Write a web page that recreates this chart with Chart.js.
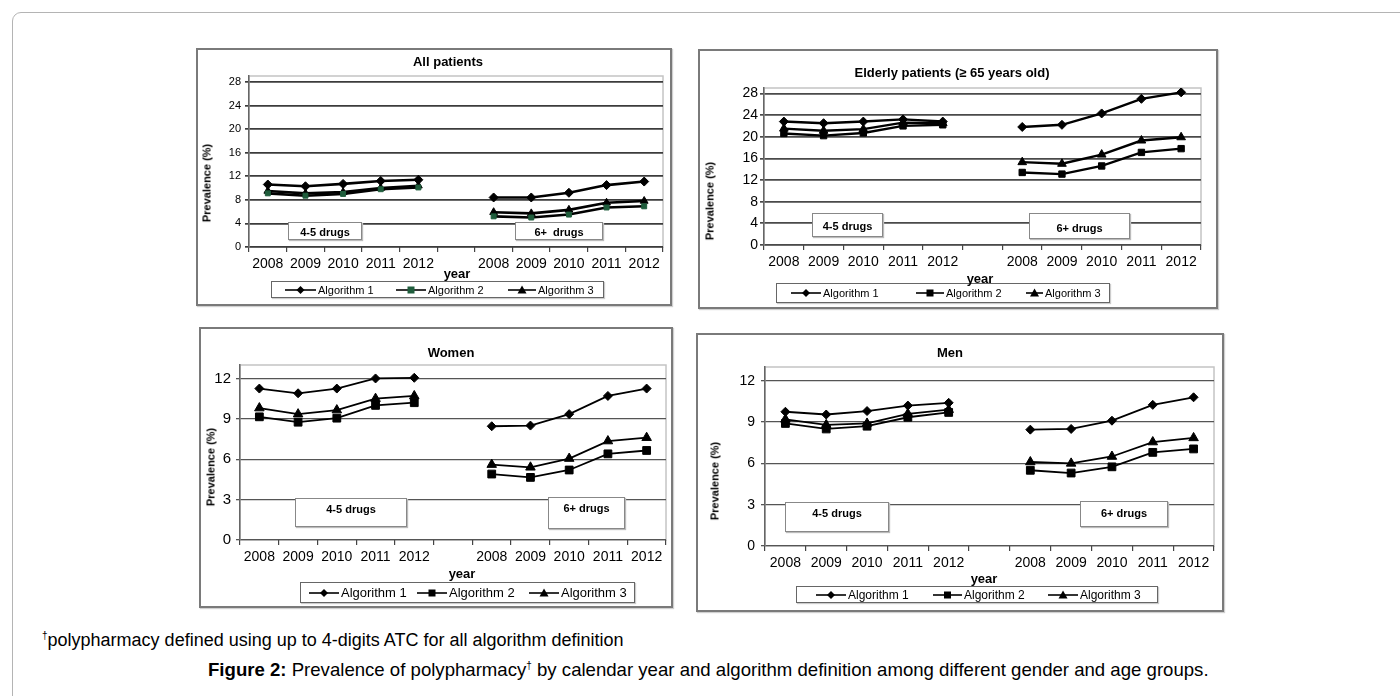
<!DOCTYPE html>
<html>
<head>
<meta charset="utf-8">
<script src="https://cdn.jsdelivr.net/npm/chart.js@4.4.1/dist/chart.umd.min.js"></script>
<style>
body{margin:0;width:1400px;height:696px;overflow:hidden;background:#fff;font-family:Arial,"Liberation Sans",sans-serif;position:relative;color:#000}
.frame{position:absolute;left:12px;top:12px;width:1420px;height:720px;border:1px solid #b4b4b4;border-radius:9px}
.panel{position:absolute;box-sizing:border-box;border:2px solid #7a7a7a;box-shadow:1px 1px 1px #d0d0d0}
canvas{position:absolute}
.txt{position:absolute;white-space:nowrap;line-height:1}
.ttl{font-weight:bold;font-size:13px;transform:translate(-50%,-50%)}
.yt{font-weight:bold;font-size:11px;transform:translate(-50%,-50%) rotate(-90deg)}
.yr{font-weight:bold;font-size:13px;transform:translate(-50%,-50%)}
.box{position:absolute;box-sizing:border-box;border:1px solid #888;background:#fff;font-weight:bold;font-size:11px;text-align:center;box-shadow:1px 1px 1px #bbb;white-space:nowrap}
.leg{position:absolute;box-sizing:border-box;border:1px solid #666;background:#fff;box-shadow:1px 1px 1px #ccc}
.li{position:absolute;top:0;bottom:0;display:flex;align-items:center;white-space:nowrap}
.li svg{margin-right:2px}
.foot{position:absolute;white-space:nowrap;line-height:1}
sup{font-size:10px;vertical-align:7px;line-height:0}
</style>
</head>
<body>
<div class="frame"></div>
<div id="root"></div>
<div class="foot" style="left:42px;top:631px;font-size:18px"><sup>†</sup>polypharmacy defined using up to 4-digits ATC for all algorithm definition</div>
<div class="foot" style="left:208px;top:661px;font-size:18.6px"><b>Figure 2:</b> Prevalence of polypharmacy<sup>†</sup> by calendar year and algorithm definition among different gender and age groups.</div>
<script>
// x categories: two blocks of years with an empty slot between them
var years = ['2008','2009','2010','2011','2012','','2008','2009','2010','2011','2012'];
var seriesNames = ['Algorithm 1','Algorithm 2','Algorithm 3'];

// All patients
var allA1 = [10.6,10.3,10.7,11.2,11.4,null,8.4,8.4,9.2,10.5,11.1];
var allA2 = [9.1,8.7,9.0,9.8,10.1,null,5.2,5.0,5.5,6.7,6.9];
var allA3 = [9.5,9.1,9.3,10.0,10.4,null,5.9,5.7,6.3,7.5,7.8];

// Elderly patients (>= 65)
var eldA1 = [22.8,22.5,22.8,23.2,22.8,null,21.8,22.2,24.3,27.0,28.2];
var eldA2 = [20.6,20.2,20.7,22.0,22.2,null,13.4,13.1,14.6,17.1,17.8];
var eldA3 = [21.5,21.1,21.4,22.6,22.5,null,15.3,15.0,16.7,19.3,19.9];

// Women
var womA1 = [11.25,10.9,11.25,12.0,12.05,null,8.45,8.5,9.35,10.7,11.25];
var womA2 = [9.15,8.75,9.05,10.0,10.2,null,4.9,4.65,5.2,6.4,6.65];
var womA3 = [9.8,9.35,9.65,10.5,10.7,null,5.6,5.4,6.05,7.35,7.6];

// Men
var menA1 = [9.75,9.55,9.8,10.2,10.4,null,8.45,8.5,9.1,10.25,10.8];
var menA2 = [8.9,8.5,8.7,9.35,9.7,null,5.5,5.3,5.75,6.8,7.05];
var menA3 = [9.2,8.8,8.9,9.6,9.9,null,6.1,6.0,6.5,7.55,7.85];

var yMaxes = [29, 29, 13, 13];
var ySteps = [4, 4, 3, 3];

var panels = [
  {title:'All patients', data:[allA1,allA2,allA3], L:196,T:48,R:672,B:306, pl:249,pr:663,pt:76,pb:247,
   yFont:11, xFont:14, ypad:4, lw:2.6, grid:'#3c3c3c', gw:1.7, r:[4.5,3.5,4.5], a2:'#1f5d3c',
   tt:[448,61], yt:[207,183], yr:[457,273],
   boxes:[['4-5 drugs',288,222,74,18,3],['6+&nbsp; drugs',515,222,88,18,3]],
   leg:[271,281,333,17,11,[13,124,236],[31,30,28]]},
  {title:'Elderly patients (\u2265 65 years old)', data:[eldA1,eldA2,eldA3], L:698,T:49,R:1218,B:309, pl:764,pr:1201,pt:88,pb:245,
   yFont:14, xFont:14, ypad:2, lw:2.4, grid:'#4a4a4a', gw:1.7, r:[4.5,4.5,5], a2:'#000',
   tt:[952,72], yt:[710,201], yr:[980,278],
   boxes:[['4-5 drugs',812,213,71,24,6],['6+ drugs',1029,213,101,26,8]],
   leg:[776,283,334,20,11,[14,139,249],[30,28,17]]},
  {title:'Women', data:[womA1,womA2,womA3], L:199,T:327,R:673,B:608, pl:240,pr:666,pt:365,pb:540,
   yFont:15, xFont:14, ypad:5, lw:1.8, grid:'#555', gw:1.3, r:[4.5,5.5,5.5], a2:'#000',
   tt:[451,352], yt:[211,467], yr:[462,573],
   boxes:[['4-5 drugs',295,498,112,29,4],['6+ drugs',548,497,77,32,4]],
   leg:[300,582,335,21,13,[8,116,228],[30,30,30]]},
  {title:'Men', data:[menA1,menA2,menA3], L:696,T:333,R:1224,B:612, pl:765,pr:1214,pt:367,pb:546,
   yFont:14, xFont:14, ypad:6, lw:1.8, grid:'#555', gw:1.3, r:[4.5,5.5,5.5], a2:'#000',
   tt:[950,352], yt:[715,481], yr:[984,578],
   boxes:[['4-5 drugs',785,502,104,30,4],['6+ drugs',1080,501,88,26,5]],
   leg:[796,586,362,17,12,[19,136,251],[30,29,30]]}
];

var styles = ['rectRot','rect','triangle'];

// light plot-area border like the original spreadsheet chart
var areaBorder = {
  id:'areaBorder',
  beforeDraw: function(chart){
    var a = chart.chartArea, c = chart.ctx;
    c.save();
    c.strokeStyle = '#c4c4c4';
    c.lineWidth = 1.5;
    c.strokeRect(a.left, a.top, a.right - a.left, a.bottom - a.top);
    c.restore();
  }
};

function marker(style, color, w){
  var m = w / 2;
  var s = '<svg width="' + w + '" height="12" viewBox="0 0 ' + w + ' 12"><line x1="0" y1="6" x2="' + w + '" y2="6" stroke="#000" stroke-width="1.6"/>';
  if (style === 'rectRot') s += '<polygon points="' + m + ',2 ' + (m + 4) + ',6 ' + m + ',10 ' + (m - 4) + ',6" fill="' + color + '"/>';
  if (style === 'rect') s += '<rect x="' + (m - 3.5) + '" y="2.5" width="7" height="7" fill="' + color + '"/>';
  if (style === 'triangle') s += '<polygon points="' + m + ',1.5 ' + (m + 4.5) + ',9.5 ' + (m - 4.5) + ',9.5" fill="' + color + '"/>';
  return s + '</svg>';
}

var root = document.getElementById('root');

panels.forEach(function(p, idx){
  var html = '';
  html += '<div class="panel" style="left:' + p.L + 'px;top:' + p.T + 'px;width:' + (p.R - p.L) + 'px;height:' + (p.B - p.T) + 'px"></div>';
  html += '<canvas id="c' + idx + '" width="' + (p.R - p.L) + '" height="' + (p.B - p.T) + '" style="left:' + p.L + 'px;top:' + p.T + 'px"></canvas>';
  html += '<div class="txt ttl" style="left:' + p.tt[0] + 'px;top:' + p.tt[1] + 'px">' + p.title + '</div>';
  html += '<div class="txt yt" style="left:' + p.yt[0] + 'px;top:' + p.yt[1] + 'px">Prevalence (%)</div>';
  p.boxes.forEach(function(b){
    html += '<div class="box" style="left:' + b[1] + 'px;top:' + b[2] + 'px;width:' + b[3] + 'px;height:' + b[4] + 'px;padding-top:' + b[5] + 'px">' + b[0] + '</div>';
  });
  var lg = p.leg;
  html += '<div class="leg" style="left:' + lg[0] + 'px;top:' + lg[1] + 'px;width:' + lg[2] + 'px;height:' + lg[3] + 'px;font-size:' + lg[4] + 'px">';
  seriesNames.forEach(function(n, k){
    html += '<div class="li" style="left:' + lg[5][k] + 'px">' + marker(styles[k], k === 1 ? p.a2 : '#000', lg[6][k]) + n + '</div>';
  });
  html += '</div>';
  html += '<div class="txt yr" style="left:' + p.yr[0] + 'px;top:' + p.yr[1] + 'px">year</div>';
  root.insertAdjacentHTML('beforeend', html);
});

panels.forEach(function(p, idx){
  var ctx = document.getElementById('c' + idx);
  var step = ySteps[idx];
  var ymax = yMaxes[idx];
  var ds = p.data.map(function(d, k){
    var col = k === 1 ? p.a2 : '#000';
    return {
      label: seriesNames[k],
      data: d,
      borderColor: '#000',
      backgroundColor: col,
      borderWidth: p.lw,
      pointStyle: styles[k],
      pointRadius: p.r[k],
      pointBackgroundColor: col,
      pointBorderColor: col,
      pointBorderWidth: 1,
      tension: 0,
      spanGaps: false
    };
  });
  new Chart(ctx, {
    type: 'line',
    data: {labels: years, datasets: ds},
    options: {
      responsive: false,
      animation: false,
      events: [],
      layout: {padding: {left: 0, top: p.pt - p.T, right: p.R - p.pr, bottom: 0}},
      plugins: {legend: {display: false}, title: {display: false}, tooltip: {enabled: false}},
      scales: {
        x: {
          type: 'category',
          offset: true,
          grid: {offset: true, drawOnChartArea: false, drawTicks: true, tickLength: 5, color: '#444', lineWidth: 1.2},
          border: {display: false},
          ticks: {font: {size: p.xFont, family: 'Arial'}, color: '#000', padding: 4, maxRotation: 0, autoSkip: false},
          afterFit: function(s){ s.height = p.B - p.pb; }
        },
        y: {
          min: 0,
          max: ymax,
          ticks: {stepSize: step, font: {size: p.yFont, family: 'Arial'}, color: '#000', padding: p.ypad},
          grid: {color: p.grid, lineWidth: p.gw, tickLength: 4},
          border: {color: '#666', width: 1.5},
          afterFit: function(s){ s.width = p.pl - p.L; },
          afterBuildTicks: function(s){
            var t = [];
            for (var v = 0; v <= ymax; v += step) t.push({value: v});
            s.ticks = t;
          }
        }
      }
    },
    plugins: [areaBorder]
  });
});
</script>
</body>
</html>
